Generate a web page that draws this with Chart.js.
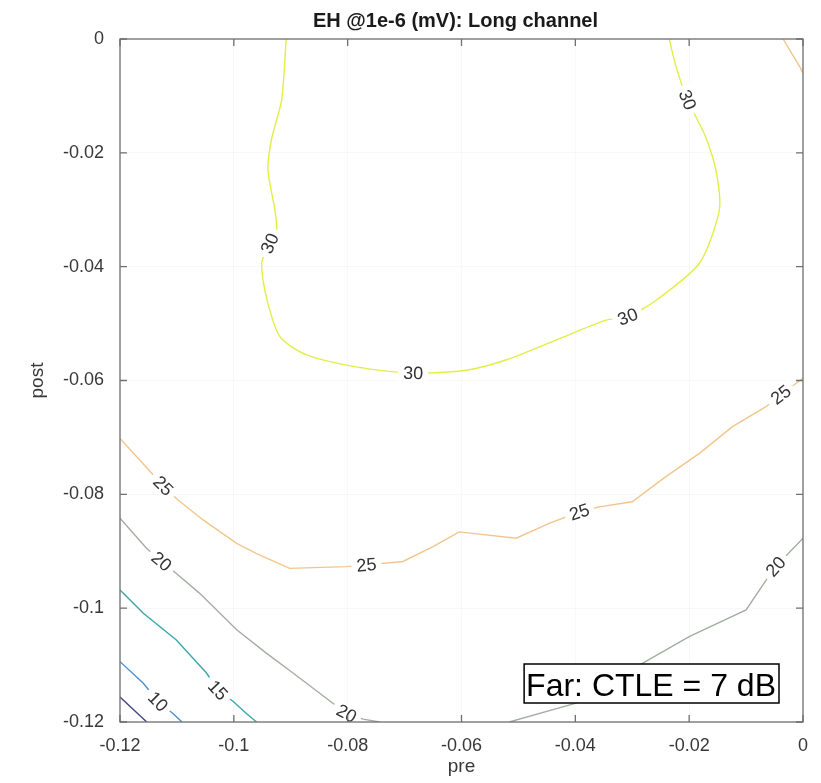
<!DOCTYPE html>
<html>
<head>
<meta charset="utf-8">
<title>EH @1e-6 (mV): Long channel</title>
<script src="https://cdn.jsdelivr.net/npm/chart.js@4.4.1/dist/chart.umd.min.js"></script>
<style>
  html, body { margin: 0; padding: 0; background: #fff; }
  canvas { display: block; }
</style>
</head>
<body>
<canvas id="chart" width="821" height="783"></canvas>
<script>
/* Contour plot of eye height vs. pre/post cursor taps, redrawn as scatter lines.
 * Each contour path is a list of [pre, post] points. */

const xTicks = [-0.12, -0.1, -0.08, -0.06, -0.04, -0.02, 0];
const yTicks = [-0.12, -0.1, -0.08, -0.06, -0.04, -0.02, 0];

// level 30 (closed-ish loop hanging from the top edge)
const c30 = [
  [-0.0908, 0], [-0.0916, -0.0107], [-0.0934, -0.0177], [-0.0940, -0.0230], [-0.0928, -0.0300],
  [-0.0925, -0.0336], [-0.0937, -0.0359], [-0.0951, -0.0394], [-0.0943, -0.0453], [-0.0919, -0.0523],
  [-0.0872, -0.0555], [-0.0785, -0.0576], [-0.0685, -0.0587], [-0.0592, -0.0582], [-0.0522, -0.0564],
  [-0.0434, -0.0529], [-0.0346, -0.0494], [-0.0308, -0.0488], [-0.0258, -0.0459], [-0.0182, -0.0394],
  [-0.0147, -0.0300], [-0.0153, -0.0230], [-0.0171, -0.0172], [-0.0188, -0.0137], [-0.0203, -0.0107],
  [-0.0223, -0.0049], [-0.0235, 0]
];
const c30Labels = [6, 12, 17, 24];

// level 25, main path and the small top-right corner piece
const c25a = [
  [-0.12, -0.0702], [-0.1147, -0.0760], [-0.1124, -0.0785], [-0.1098, -0.0810], [-0.1054, -0.0845],
  [-0.0995, -0.0886], [-0.0960, -0.0904], [-0.0902, -0.0930], [-0.0802, -0.0927], [-0.0767, -0.0924],
  [-0.0703, -0.0918], [-0.0650, -0.0892], [-0.0604, -0.0866], [-0.0504, -0.0877], [-0.0446, -0.0851],
  [-0.0393, -0.0831], [-0.0358, -0.0822], [-0.0300, -0.0813], [-0.0241, -0.0769], [-0.0182, -0.0728],
  [-0.0124, -0.0681], [-0.0065, -0.0646], [-0.0039, -0.0625], [0, -0.0596]
];
const c25aLabels = [2, 9, 15, 22];
const c25b = [[-0.0035, 0], [-0.0005, -0.0050], [0, -0.0060]];

// level 20, left and right pieces
const c20a = [
  [-0.12, -0.0842], [-0.1153, -0.0895], [-0.1127, -0.0918], [-0.1101, -0.0939], [-0.1060, -0.0974],
  [-0.0995, -0.1038], [-0.0943, -0.1079], [-0.0896, -0.1114], [-0.0826, -0.1167], [-0.0802, -0.1185],
  [-0.0773, -0.1195], [-0.0744, -0.12]
];
const c20aLabels = [2, 9];
const c20b = [
  [-0.0516, -0.12], [-0.0399, -0.1167], [-0.0293, -0.1103], [-0.0200, -0.1050], [-0.0100, -0.1003],
  [-0.0065, -0.0951], [-0.0048, -0.0927], [0, -0.0877]
];
const c20bLabels = [6];

// levels 15, 10, 5 in the lower-left corner
const c15 = [
  [-0.12, -0.0968], [-0.1159, -0.1009], [-0.1101, -0.1056], [-0.1048, -0.1114], [-0.1028, -0.1144],
  [-0.1001, -0.1164], [-0.0978, -0.1185], [-0.0960, -0.12]
];
const c15Labels = [4];
const c10 = [[-0.12, -0.1094], [-0.1159, -0.1132], [-0.1133, -0.1164], [-0.1107, -0.1185], [-0.1091, -0.12]];
const c10Labels = [2];
const c05 = [[-0.12, -0.1156], [-0.1153, -0.12]];

// parula-ish contour colours (as they look in the figure)
const levelColor = { 5: "#434a7c", 10: "#4c8fd2", 15: "#3aa8aa", 20: "#a3aea2", 25: "#f1c68c", 30: "#e3ee45" };

const paths = [
  { level: 30, pts: c30, labels: c30Labels },
  { level: 25, pts: c25a, labels: c25aLabels },
  { level: 25, pts: c25b, labels: [] },
  { level: 20, pts: c20a, labels: c20aLabels },
  { level: 20, pts: c20b, labels: c20bLabels },
  { level: 15, pts: c15, labels: c15Labels },
  { level: 10, pts: c10, labels: c10Labels },
  { level: 5, pts: c05, labels: [] },
];

const FONT = '"Liberation Sans", Arial, Helvetica, sans-serif';
const AXIS = "#6f6f6f";
const TEXT = "#383838";
Chart.defaults.font.family = FONT;

const fmt = (v) => String(Math.round(v * 100) / 100);

// contour labels, frame with inward ticks, annotation box and title
const decor = {
  id: "decor",
  afterDatasetsDraw(chart) {
    const { ctx, chartArea: a, scales: { x, y } } = chart;
    const px = (p) => x.getPixelForValue(p[0]);
    const py = (p) => y.getPixelForValue(p[1]);
    ctx.save();

    ctx.font = "18px " + FONT;
    ctx.textAlign = "center";
    ctx.textBaseline = "middle";
    paths.forEach((c) => {
      c.labels.forEach((i) => {
        const p = c.pts[i], p0 = c.pts[i - 1], p1 = c.pts[i + 1];
        let ang = Math.atan2(py(p1) - py(p0), px(p1) - px(p0));
        if (ang > Math.PI / 2) ang -= Math.PI;
        if (ang < -Math.PI / 2) ang += Math.PI;
        const t = String(c.level), w = ctx.measureText(t).width;
        ctx.save();
        ctx.translate(px(p), py(p));
        ctx.rotate(ang);
        ctx.fillStyle = "#fff";
        ctx.fillRect(-w / 2 - 5, -8, w + 10, 16);
        ctx.fillStyle = "#333";
        ctx.fillText(t, 0, 1);
        ctx.restore();
      });
    });

    // frame
    ctx.strokeStyle = AXIS;
    ctx.lineWidth = 1.3;
    ctx.strokeRect(a.left, a.top, a.right - a.left, a.bottom - a.top);
    ctx.beginPath();
    xTicks.forEach((v) => {
      const p = x.getPixelForValue(v);
      ctx.moveTo(p, a.bottom); ctx.lineTo(p, a.bottom - 7);
      ctx.moveTo(p, a.top); ctx.lineTo(p, a.top + 7);
    });
    yTicks.forEach((v) => {
      const p = y.getPixelForValue(v);
      ctx.moveTo(a.left, p); ctx.lineTo(a.left + 7, p);
      ctx.moveTo(a.right, p); ctx.lineTo(a.right - 7, p);
    });
    ctx.stroke();

    // "Far: CTLE = 7 dB" box, lower right
    ctx.font = "32px " + FONT;
    ctx.textAlign = "right";
    ctx.textBaseline = "alphabetic";
    const txt = "Far: CTLE = 7 dB";
    const tw = ctx.measureText(txt).width;
    const bx1 = a.right - 24, by1 = a.bottom - 19;
    ctx.fillStyle = "#fff";
    ctx.fillRect(bx1 - tw - 5, by1 - 39, tw + 5, 39);
    ctx.strokeStyle = "#000";
    ctx.lineWidth = 1.5;
    ctx.strokeRect(bx1 - tw - 5, by1 - 39, tw + 5, 39);
    ctx.fillStyle = "#000";
    ctx.fillText(txt, bx1 - 3, by1 - 7);

    // title
    ctx.font = "bold 20px " + FONT;
    ctx.textAlign = "center";
    ctx.fillStyle = "#1a1a1a";
    ctx.fillText("EH @1e-6 (mV): Long channel", (a.left + a.right) / 2 - 6, 27);

    ctx.restore();
  },
};

new Chart(document.getElementById("chart"), {
  type: "scatter",
  data: {
    datasets: paths.map((c) => ({
      label: String(c.level),
      data: c.pts.map(([pre, post]) => ({ x: pre, y: post })),
      showLine: true,
      borderColor: levelColor[c.level],
      borderWidth: 1.4,
      tension: c.level === 30 ? 0.25 : 0,  // the 30 loop reads as smooth, the rest as kinked
      pointRadius: 0,
      fill: false,
    })),
  },
  options: {
    responsive: false,
    devicePixelRatio: 1,
    animation: false,
    layout: { padding: { left: 0, right: 17, top: 39, bottom: 0 } },
    plugins: { legend: { display: false }, tooltip: { enabled: false }, title: { display: false } },
    scales: {
      x: {
        type: "linear", min: -0.12, max: 0,
        afterBuildTicks: (s) => { s.ticks = xTicks.map((v) => ({ value: v })); },
        afterFit: (s) => { s.height = 61; },
        grid: { color: "rgba(0,0,0,0.028)", drawTicks: false },
        border: { display: false },
        ticks: { color: TEXT, font: { size: 18 }, padding: 13, maxRotation: 0, autoSkip: false, callback: fmt },
        title: { display: true, text: "pre", color: TEXT, font: { size: 19 }, padding: { top: 0, bottom: 5 } },
      },
      y: {
        type: "linear", min: -0.12, max: 0,
        afterBuildTicks: (s) => { s.ticks = yTicks.map((v) => ({ value: v })); },
        afterFit: (s) => { s.width = 120; },
        grid: { color: "rgba(0,0,0,0.028)", drawTicks: false },
        border: { display: false },
        ticks: { color: TEXT, font: { size: 18 }, padding: 16, autoSkip: false, callback: fmt },
        title: { display: true, text: "post", color: TEXT, font: { size: 19 }, padding: { top: 26, bottom: 0 } },
      },
    },
  },
  plugins: [decor],
});
</script>
</body>
</html>
